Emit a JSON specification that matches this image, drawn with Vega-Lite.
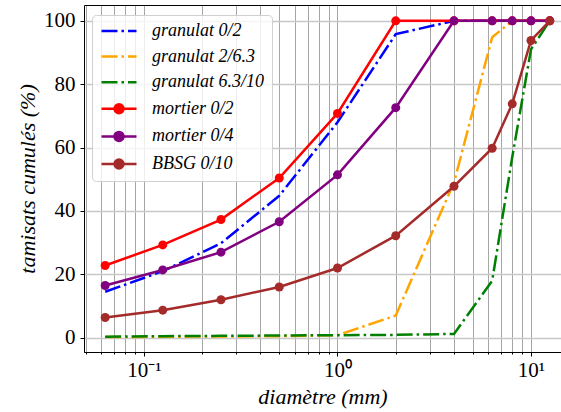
{
  "$schema": "https://vega.github.io/schema/vega-lite/v6.json",
  "width": 477,
  "height": 347,
  "autosize": "none",
  "padding": {"left": 84, "top": 5, "right": 0, "bottom": 60},
  "config": {
    "view": {"stroke": null},
    "font": "serif",
    "axis": {
      "domainColor": "black", "tickColor": "black", "labelColor": "black", "titleColor": "black",
      "labelFont": "serif", "labelFontSize": 21,
      "titleFont": "serif", "titleFontSize": 22, "titleFontStyle": "italic", "titleFontWeight": "normal"
    }
  },
  "data": {"values": [
    {"s": "granulat 0/2", "d": 0.063, "p": 14.5},
    {"s": "granulat 0/2", "d": 0.125, "p": 21},
    {"s": "granulat 0/2", "d": 0.25, "p": 29.8},
    {"s": "granulat 0/2", "d": 0.5, "p": 44.8},
    {"s": "granulat 0/2", "d": 1, "p": 68},
    {"s": "granulat 0/2", "d": 2, "p": 95.8},
    {"s": "granulat 0/2", "d": 4, "p": 100},
    {"s": "granulat 0/2", "d": 6.3, "p": 100},
    {"s": "granulat 0/2", "d": 8, "p": 100},
    {"s": "granulat 0/2", "d": 10, "p": 100},
    {"s": "granulat 0/2", "d": 12.5, "p": 100},
    {"s": "granulat 2/6.3", "d": 0.063, "p": 0.2},
    {"s": "granulat 2/6.3", "d": 0.125, "p": 0.3},
    {"s": "granulat 2/6.3", "d": 0.25, "p": 0.4},
    {"s": "granulat 2/6.3", "d": 0.5, "p": 0.5},
    {"s": "granulat 2/6.3", "d": 1, "p": 0.8},
    {"s": "granulat 2/6.3", "d": 2, "p": 7},
    {"s": "granulat 2/6.3", "d": 4, "p": 49},
    {"s": "granulat 2/6.3", "d": 6.3, "p": 94.8},
    {"s": "granulat 2/6.3", "d": 8, "p": 100},
    {"s": "granulat 2/6.3", "d": 10, "p": 100},
    {"s": "granulat 2/6.3", "d": 12.5, "p": 100},
    {"s": "granulat 6.3/10", "d": 0.063, "p": 0.3},
    {"s": "granulat 6.3/10", "d": 0.125, "p": 0.5},
    {"s": "granulat 6.3/10", "d": 0.25, "p": 0.6},
    {"s": "granulat 6.3/10", "d": 0.5, "p": 0.7},
    {"s": "granulat 6.3/10", "d": 1, "p": 0.8},
    {"s": "granulat 6.3/10", "d": 2, "p": 0.9},
    {"s": "granulat 6.3/10", "d": 4, "p": 1.2},
    {"s": "granulat 6.3/10", "d": 6.3, "p": 18},
    {"s": "granulat 6.3/10", "d": 8, "p": 57},
    {"s": "granulat 6.3/10", "d": 10, "p": 91},
    {"s": "granulat 6.3/10", "d": 12.5, "p": 100},
    {"s": "mortier 0/2", "d": 0.063, "p": 22.8},
    {"s": "mortier 0/2", "d": 0.125, "p": 29.3},
    {"s": "mortier 0/2", "d": 0.25, "p": 37.3},
    {"s": "mortier 0/2", "d": 0.5, "p": 50.4},
    {"s": "mortier 0/2", "d": 1, "p": 70.8},
    {"s": "mortier 0/2", "d": 2, "p": 100},
    {"s": "mortier 0/2", "d": 4, "p": 100},
    {"s": "mortier 0/2", "d": 6.3, "p": 100},
    {"s": "mortier 0/2", "d": 8, "p": 100},
    {"s": "mortier 0/2", "d": 10, "p": 100},
    {"s": "mortier 0/2", "d": 12.5, "p": 100},
    {"s": "mortier 0/4", "d": 0.063, "p": 16.5},
    {"s": "mortier 0/4", "d": 0.125, "p": 21.4},
    {"s": "mortier 0/4", "d": 0.25, "p": 27},
    {"s": "mortier 0/4", "d": 0.5, "p": 36.6},
    {"s": "mortier 0/4", "d": 1, "p": 51.4},
    {"s": "mortier 0/4", "d": 2, "p": 72.6},
    {"s": "mortier 0/4", "d": 4, "p": 100},
    {"s": "mortier 0/4", "d": 6.3, "p": 100},
    {"s": "mortier 0/4", "d": 8, "p": 100},
    {"s": "mortier 0/4", "d": 10, "p": 100},
    {"s": "mortier 0/4", "d": 12.5, "p": 100},
    {"s": "BBSG 0/10", "d": 0.063, "p": 6.4},
    {"s": "BBSG 0/10", "d": 0.125, "p": 8.7},
    {"s": "BBSG 0/10", "d": 0.25, "p": 12},
    {"s": "BBSG 0/10", "d": 0.5, "p": 16},
    {"s": "BBSG 0/10", "d": 1, "p": 22},
    {"s": "BBSG 0/10", "d": 2, "p": 32.2},
    {"s": "BBSG 0/10", "d": 4, "p": 47.8},
    {"s": "BBSG 0/10", "d": 6.3, "p": 59.8},
    {"s": "BBSG 0/10", "d": 8, "p": 73.8},
    {"s": "BBSG 0/10", "d": 10, "p": 93.8},
    {"s": "BBSG 0/10", "d": 12.5, "p": 100}
  ]},
  "resolve": {"axis": {"x": "independent"}},
  "layer": [
    {
      "transform": [{"filter": "false"}],
      "mark": {"type": "point", "filled": true, "opacity": 1, "size": 196},
      "encoding": {
        "x": {"field": "d", "type": "quantitative", "scale": {"type": "log", "domain": [0.04898, 14.29], "nice": false},
              "axis": {"orient": "top", "labels": false, "ticks": false, "grid": false, "title": null, "domainColor": "black"}},
        "y": {"field": "p", "type": "quantitative", "scale": {"domain": [-4.5, 105], "nice": false, "zero": false},
              "axis": {"values": [0, 20, 40, 60, 80, 100], "tickSize": 4, "labelPadding": 5, "grid": true, "gridColor": "#c8c8c8", "gridWidth": 1.5,
                       "title": "tamisats cumulés (%)", "titlePadding": 4}},
        "color": {
          "field": "s", "type": "nominal",
          "scale": {"domain": ["granulat 0/2", "granulat 2/6.3", "granulat 6.3/10", "mortier 0/2", "mortier 0/4", "BBSG 0/10"],
                    "range": ["#0000ff", "#ffa500", "#008000", "#ff0000", "#800080", "#a52a2a"]},
          "legend": {
            "title": null, "orient": "none", "legendX": 8, "legendY": 10,
            "padding": 7, "symbolOffset": 11, "symbolSize": 196, "symbolStrokeWidth": 2.5,
            "labelOffset": 24, "rowPadding": 7.6,
            "labelFont": "serif", "labelFontSize": 18, "labelFontStyle": "italic", "labelColor": "black",
            "fillColor": "rgba(255,255,255,0.8)", "strokeColor": "#d0d0d0", "cornerRadius": 4,
            "encode": {"symbols": {"update": {"stroke": {"scale": "color", "field": "value"}, "strokeWidth": {"value": 2.5}, "opacity": {"value": 1}}}}
          }
        },
        "shape": {
          "field": "s", "type": "nominal",
          "scale": {"domain": ["granulat 0/2", "granulat 2/6.3", "granulat 6.3/10", "mortier 0/2", "mortier 0/4", "BBSG 0/10"],
                    "range": ["M-2.5,0L-0.214,0M0.357,0L0.714,0M1.286,0L2.5,0",
                              "M-2.5,0L-0.214,0M0.357,0L0.714,0M1.286,0L2.5,0",
                              "M-2.5,0L-0.214,0M0.357,0L0.714,0M1.286,0L2.5,0",
                              "M-2.5,0L2.5,0M0.64,0A0.64,0.64,0,1,1,-0.64,0A0.64,0.64,0,1,1,0.64,0Z",
                              "M-2.5,0L2.5,0M0.64,0A0.64,0.64,0,1,1,-0.64,0A0.64,0.64,0,1,1,0.64,0Z",
                              "M-2.5,0L2.5,0M0.64,0A0.64,0.64,0,1,1,-0.64,0A0.64,0.64,0,1,1,0.64,0Z"]}
        }
      }
    },
    {
      "transform": [{"filter": "indexof(datum.s, 'granulat') == 0"}],
      "mark": {"type": "line", "strokeWidth": 2.5, "strokeDash": [16, 4, 2.5, 4]},
      "encoding": {
        "x": {"field": "d", "type": "quantitative",
              "axis": {"orient": "bottom", "values": [0.05, 0.06, 0.07, 0.08, 0.09, 0.1, 0.2, 0.3, 0.4, 0.5, 0.6, 0.7, 0.8, 0.9, 1, 2, 3, 4, 5, 6, 7, 8, 9, 10],
                       "labels": false, "tickSize": 2, "grid": true, "gridColor": "#a6a6a6", "gridWidth": 1, "title": null}},
        "y": {"field": "p", "type": "quantitative"},
        "stroke": {"field": "s", "type": "nominal", "legend": null,
                   "scale": {"domain": ["granulat 0/2", "granulat 2/6.3", "granulat 6.3/10", "mortier 0/2", "mortier 0/4", "BBSG 0/10"],
                             "range": ["#0000ff", "#ffa500", "#008000", "#ff0000", "#800080", "#a52a2a"]}}
      }
    },
    {
      "transform": [{"filter": "indexof(datum.s, 'granulat') != 0"}],
      "mark": {"type": "line", "strokeWidth": 2.5},
      "encoding": {
        "x": {"field": "d", "type": "quantitative",
              "axis": {"orient": "bottom", "values": [0.1, 1, 10], "tickSize": 4, "grid": false, "labelPadding": 3,
                       "labelExpr": "datum.value < 0.5 ? '10⁻¹' : (datum.value < 5 ? '10⁰' : '10¹')",
                       "title": "diamètre (mm)", "titlePadding": 6}},
        "y": {"field": "p", "type": "quantitative"},
        "stroke": {"field": "s", "type": "nominal", "legend": null}
      }
    },
    {
      "transform": [{"filter": "indexof(datum.s, 'granulat') != 0"}],
      "mark": {"type": "point", "filled": true, "opacity": 1, "size": 81, "strokeWidth": 0},
      "encoding": {
        "x": {"field": "d", "type": "quantitative", "axis": null},
        "y": {"field": "p", "type": "quantitative"},
        "fill": {"field": "s", "type": "nominal", "legend": null,
                 "scale": {"domain": ["granulat 0/2", "granulat 2/6.3", "granulat 6.3/10", "mortier 0/2", "mortier 0/4", "BBSG 0/10"],
                           "range": ["#0000ff", "#ffa500", "#008000", "#ff0000", "#800080", "#a52a2a"]}}
      }
    }
  ]
}
